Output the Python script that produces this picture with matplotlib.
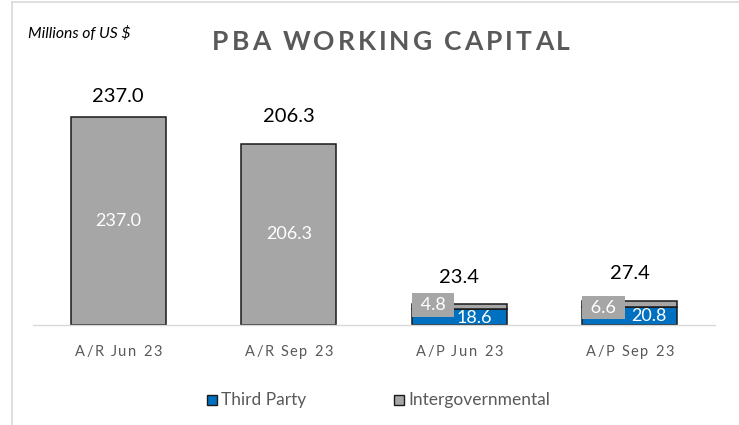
import matplotlib
matplotlib.use("Agg")
import matplotlib.pyplot as plt
from matplotlib.font_manager import FontProperties
from matplotlib.lines import Line2D
from matplotlib.patches import Rectangle
import numpy as np

categories = ["A/R Jun 23", "A/R Sep 23", "A/P Jun 23", "A/P Sep 23"]
third_party = [0.0, 0.0, 18.6, 20.8]
intergov = [237.0, 206.3, 4.8, 6.6]
totals = [237.0, 206.3, 23.4, 27.4]
series_names = ["Third Party", "Intergovernmental"]

BLUE = "#0070C0"
GREY = "#A6A6A6"
TXT = "#595959"

W, H, DPI = 739, 425, 100
fig = plt.figure(figsize=(W / DPI, H / DPI), dpi=DPI)
plt.rcParams["font.family"] = ["Lato", "DejaVu Sans"]

# plot area in pixels: x 33..715, baseline at y=325 (from top), 0.879 px per unit
ax_left, ax_right, base_px, top_px = 33, 715, 325, 60
ax = fig.add_axes([ax_left / W, (H - base_px) / H,
                   (ax_right - ax_left) / W, (base_px - top_px) / H])
ymax = (base_px - top_px) / 0.879
ax.set_ylim(0, ymax)
ax.set_xlim(-0.5, len(categories) - 0.5)

x = np.arange(len(categories))
bw = 0.56
ax.bar(x, third_party, bw, color=BLUE, edgecolor="#1a1a1a", lw=1.1, zorder=2)
ax.bar(x, intergov, bw, bottom=third_party, color=GREY, edgecolor="#1a1a1a",
       lw=1.1, zorder=2)

for s in ("top", "right", "left"):
    ax.spines[s].set_visible(False)
ax.spines["bottom"].set_color("#D9D9D9")
ax.spines["bottom"].set_linewidth(1.0)
ax.set_yticks([])
ax.set_xticks([])

# totals above bars
for i, t in enumerate(totals):
    ax.text(i, min(t + 30.7, 260.5), f"{t:.1f}", ha="center", va="center",
            fontsize=14.5, color="black")

# labels inside bars (small A/P segments get nudged labels, as in Excel)
blue_dx = {2: 0.088, 3: 0.11}
blue_y = {2: 8.0, 3: 9.7}
grey_y = {2: 22.7, 3: 19.9}
for i in range(len(categories)):
    if third_party[i] == 0:
        ax.text(i, intergov[i] / 2, f"{intergov[i]:.1f}", ha="center",
                va="center", fontsize=13, color="white", zorder=3)
    else:
        ax.text(i + blue_dx[i], blue_y[i], f"{third_party[i]:.1f}",
                ha="center", va="center", fontsize=13, color="white", zorder=3)
        ax.text(i - bw / 2 + 0.025, grey_y[i], f" {intergov[i]:.1f} ",
                ha="left", va="center", fontsize=13, color="white", zorder=4,
                bbox=dict(boxstyle="square,pad=0.22", fc=GREY, ec="none"))

fig.canvas.draw()
renderer = fig.canvas.get_renderer()


def spaced_text(xc, yc, s, prop, spacing, color):
    """Draw letter-spaced text centred at pixel (xc, yc from top)."""
    widths = [renderer.get_text_width_height_descent(c, prop, ismath=False)[0]
              for c in s]
    total = sum(widths) + spacing * (len(s) - 1)
    xp = xc - total / 2
    for c, w in zip(s, widths):
        fig.text(xp / W, 1 - yc / H, c, fontproperties=prop, color=color,
                 ha="left", va="center")
        xp += w + spacing


title_prop = FontProperties(family="Lato", weight="bold", size=19)
spaced_text(391, 42, "PBA WORKING CAPITAL", title_prop, 3.0, TXT)

tick_prop = FontProperties(family="Lato", size=10.5)
px_per_cat = (ax_right - ax_left) / len(categories)
for i, c in enumerate(categories):
    xc = ax_left + px_per_cat * (i + 0.5)
    spaced_text(xc, 352, c, tick_prop, 1.6, TXT)

fig.text(28 / W, 1 - 34 / H, "Millions of US $", fontsize=11.3, style="italic",
         color="black", ha="left", va="center")

# legend, drawn by hand: square + label
for name, col, sx in zip(series_names, [BLUE, GREY], [207, 394]):
    fig.add_artist(Rectangle((sx / W, 1 - 405 / H), 10 / W, 10 / H,
                             fc=col, ec="#1a1a1a", lw=1.0,
                             transform=fig.transFigure))
    fig.text((sx + 14) / W, 1 - 400 / H, name, fontsize=12.5, color=TXT,
             ha="left", va="center")

# outer chart frame (light grey), partly cropped in the reference
fig.add_artist(Line2D([12 / W, 1], [1 - 2 / H, 1 - 2 / H], color="#D9D9D9",
                      lw=1.2, transform=fig.transFigure))
fig.add_artist(Line2D([12 / W, 12 / W], [0, 1 - 2 / H], color="#D9D9D9",
                      lw=1.2, transform=fig.transFigure))

fig.savefig("out.png", dpi=DPI, facecolor="white")
